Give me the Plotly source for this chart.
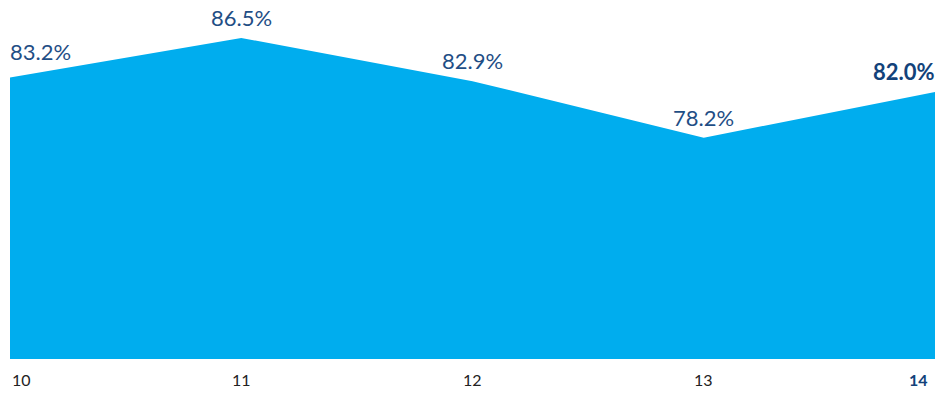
import plotly.graph_objects as go

categories = [10, 11, 12, 13, 14]
values = [83.2, 86.5, 82.9, 78.2, 82.0]
value_labels = ["83.2%", "86.5%", "82.9%", "78.2%", "82.0%"]
tick_labels = ["10", "11", "12", "13", "14"]

FILL = "#00ADEE"
LABEL = "#1F4E85"
BOLD = "#12427A"
TICK = "#222222"
FONT = "Lato"

fig = go.Figure()
fig.add_trace(go.Scatter(
    x=categories, y=values, mode="lines", fill="tozeroy",
    line=dict(color=FILL, width=0), fillcolor=FILL, hoverinfo="skip",
))

n = len(categories)
for i, (c, v, t) in enumerate(zip(categories, values, value_labels)):
    last = i == n - 1
    xa = "left" if i == 0 else ("right" if last else "center")
    fig.add_annotation(
        x=c, y=v, text=("<b>%s</b>" % t) if last else t, showarrow=False,
        xanchor=xa, yanchor="bottom", yshift=5 if i else 11,
        xshift=-2 if i == 0 else (2 if last else 0),
        font=dict(family=FONT, size=22, color=BOLD if last else LABEL),
    )
    fig.add_annotation(
        x=c, y=0, yref="paper", text=("<b>%s</b>" % tick_labels[i]) if last else tick_labels[i],
        showarrow=False, xanchor=xa, yanchor="top", yshift=-9,
        xshift=-5 if last else 0,
        font=dict(family=FONT, size=16, color=BOLD if last else TICK),
    )

fig.update_layout(
    width=940, height=396, margin=dict(l=10, r=5, t=0, b=37),
    paper_bgcolor="white", plot_bgcolor="white", showlegend=False,
    xaxis=dict(range=[categories[0], categories[-1]], visible=False, fixedrange=True),
    yaxis=dict(range=[59.77, 89.66], visible=False, fixedrange=True),
)
fig.write_html("out.html", config={"displayModeBar": False})
